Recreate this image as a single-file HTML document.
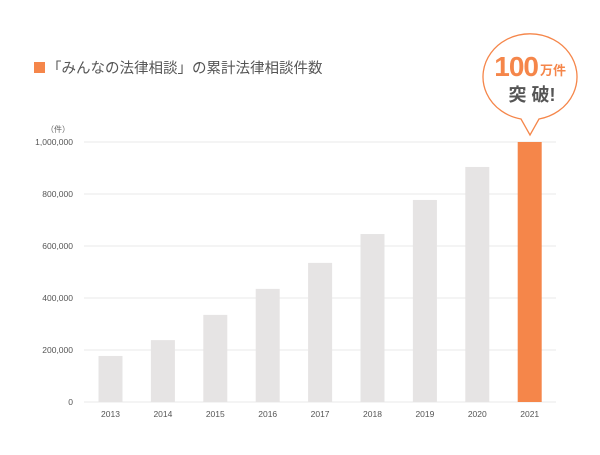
<!DOCTYPE html>
<html><head><meta charset="utf-8"><style>
body{margin:0;background:#fff;}
svg text{font-family:"Liberation Sans","Noto Sans CJK JP",sans-serif;}
</style></head><body>
<svg width="600" height="450">
<rect x="34" y="62" width="11" height="11" fill="#f5864a"/>
<text x="47" y="73" font-size="14.5" fill="#555">「みんなの法律相談」の累計法律相談件数</text>
<g id="grid"></g>
<g id="bars"></g>
<text x="70" y="132" font-size="8" fill="#666" text-anchor="end">（件）</text>
<g>
<path d="M521 119 A47 43 0 1 1 539 119 L530 135 Z" fill="#fff" stroke="#f5864a" stroke-width="1.3"/>
<text x="538" y="76" font-size="28" font-weight="bold" fill="#f5864a" text-anchor="end" letter-spacing="-1">100</text>
<text x="540" y="75" font-size="13" font-weight="bold" fill="#f5864a">万件</text>
<text x="532" y="101" font-size="18" font-weight="bold" fill="#555" text-anchor="middle">突 破!</text>
</g>
</svg>
<script>
const years=["2013","2014","2015","2016","2017","2018","2019","2020","2021"];
const counts=[177000,238000,335000,435000,535000,646000,777000,904000,1000000];
const yTicks=[0,200000,400000,600000,800000,1000000];
const yTickLabels=["0","200,000","400,000","600,000","800,000","1,000,000"];
const NS="http://www.w3.org/2000/svg";
const y=v=>402-v/1000000*260;
const x=i=>110.5+i*52.4;
const grid=document.getElementById('grid'),bars=document.getElementById('bars');
yTicks.forEach((t,i)=>{
 const l=document.createElementNS(NS,'line');
 l.setAttribute('x1',84);l.setAttribute('x2',556);l.setAttribute('y1',y(t));l.setAttribute('y2',y(t));
 l.setAttribute('stroke','#e8e8e8');
 
 
 grid.appendChild(l);
 const tx=document.createElementNS(NS,'text');
 tx.setAttribute('x',73);tx.setAttribute('y',y(t)+3);tx.setAttribute('font-size','8.5');tx.setAttribute('fill','#555');tx.setAttribute('text-anchor','end');
 tx.textContent=yTickLabels[i];
 
 
 grid.appendChild(tx);
});
years.forEach((yr,i)=>{
 const r=document.createElementNS(NS,'rect');
 const last=i===years.length-1;
 r.setAttribute('x',x(i)-12);r.setAttribute('width',24);r.setAttribute('y',y(counts[i]));r.setAttribute('height',402-y(counts[i]));
 r.setAttribute('fill',last?'#f5864a':'#e6e4e4');
 
 
 bars.appendChild(r);
 const tx=document.createElementNS(NS,'text');
 tx.setAttribute('x',x(i));tx.setAttribute('y',417);tx.setAttribute('font-size','8.5');tx.setAttribute('fill','#555');tx.setAttribute('text-anchor','middle');
 tx.textContent=yr;
 
 
 bars.appendChild(tx);
});
</script>
</body></html>
